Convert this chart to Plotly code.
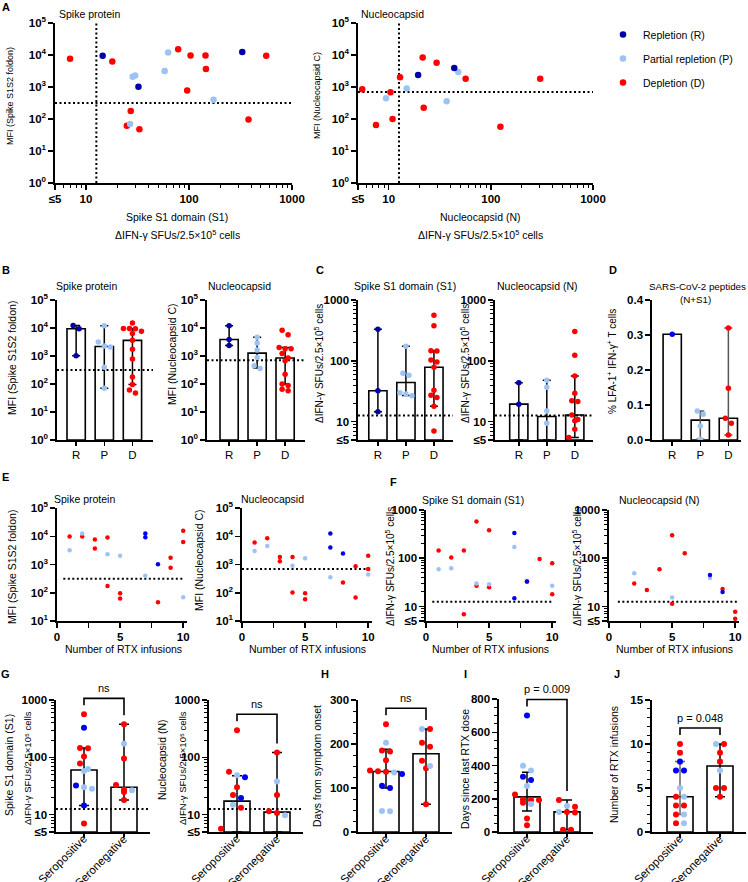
import numpy as np
import plotly.graph_objects as go

W, H = 748, 882
FN = "Liberation Sans, Arial, sans-serif"
FB = "Liberation Sans, Arial, sans-serif"

# ------------------------------------------------------------------ data
GROUPS = ["R", "P", "D"]
GROUP_LABEL = {"R": "Repletion (R)", "P": "Partial repletion (P)", "D": "Depletion (D)"}
CLR_1 = {"R": "#0000A8", "P": "#9DC3F5", "D": "#FF0000"}
CLR_2 = {"R": "#0000F0", "P": "#9DC3F5", "D": "#FF0000"}

spike_mfi_cutoff = 316
n_mfi_cutoff = 700
sfu_cutoff = 12.6

# A / B / C : spike
s1_sfu = [5, 7.0, 14.5, 18, 28.4, 30, 32.3, 27.2, 26.8, 24.9, 33, 58, 62.8, 78.5, 96, 103.5,
          144.6, 146, 173, 329, 378, 562]
spike_mfi = [1730, 7600, 9400, 6300, 2090, 2290, 1020, 178, 70, 61, 48, 3150, 12000, 15100, 780,
             9600, 9600, 3620, 400, 12300, 96, 9400]
spike_group = ["D", "D", "R", "D", "P", "P", "R", "D", "P", "D", "D", "P", "P", "D", "D", "D",
               "D", "D", "P", "R", "D", "D"]
# A / B / C : nucleocapsid
n_sfu = [5, 5, 5, 5, 5.5, 5, 7.5, 9.4, 10.4, 10.9, 12.9, 15, 19.4, 21.5, 22, 29.4, 36.9, 43.8,
         47.9, 56.6, 124, 304]
n_mfi = [12000, 4650, 1650, 1240, 850, 89, 65, 445, 680, 100, 2000, 890, 2370, 8300, 225, 5750,
         357, 3900, 2940, 1820, 57, 1820]
n_group = ["R", "P", "P", "D", "D", "D", "D", "P", "D", "D", "D", "P", "R", "D", "D", "D", "P",
           "R", "P", "D", "D", "D"]

# error bars (low, high) for R, P, D
b_spike_lo = [1020, 70, 96]
b_spike_hi = [12300, 12000, 9500]
b_n_lo = [2370, 370, 100]
b_n_hi = [12000, 4650, 2000]
c_s1_lo = [14.5, 27, 18]
c_s1_hi = [329, 173, 146]
c_n_lo = [5, 5, 5.5]
c_n_hi = [43.8, 47.9, 56.6]

# D : % LFA-1+ IFN-g+ T cells
d_values = [0.302, 0.0733, 0.083, 0.040, 0.002, 0.32, 0.148, 0.062, 0.048, 0.014]
d_group = ["R", "P", "P", "P", "P", "D", "D", "D", "D", "D"]
d_lo = [0.302, 0.002, 0.014]
d_hi = [0.302, 0.083, 0.32]

# E : MFI vs number of RTX infusions
e_rtx = [1, 1, 2, 2, 3, 3, 4, 4, 4, 5, 5, 5, 7, 7, 7, 8, 8, 9, 9, 10, 10, 10]
e_spike_mfi = [9700, 3200, 12500, 9700, 7600, 3700, 9100, 2300, 174, 2050, 96, 63, 12500, 9200,
               400, 1020, 46, 1730, 760, 15600, 6300, 69]
e_spike_group = ["D", "P", "P", "D", "D", "D", "D", "P", "D", "P", "D", "D", "R", "R", "P", "R",
                 "D", "D", "D", "D", "D", "P"]
e_n_mfi = [6000, 3000, 8500, 4500, 1860, 1300, 1860, 900, 102, 1660, 96, 59, 12500, 4000, 355,
           2450, 230, 870, 68, 2050, 690, 445]
e_n_group = ["D", "P", "D", "P", "D", "D", "D", "P", "D", "P", "D", "D", "R", "R", "P", "R", "D",
             "D", "D", "D", "D", "P"]

# F : SFUs vs number of RTX infusions
f_s1_rtx = [1, 1, 2, 2, 3, 3, 4, 4, 4, 5, 5, 5, 7, 7, 7, 8, 8, 9, 9, 10, 10, 10]
f_s1_sfu = [145, 59, 103, 62, 145, 6.9, 575, 30, 27, 380, 29, 25, 333, 171, 14.8, 33, 33, 97, 5,
            79, 27, 18]
f_s1_group = ["D", "P", "D", "P", "D", "D", "D", "P", "D", "D", "P", "D", "R", "P", "R", "D", "R",
              "D", "D", "D", "P", "D"]
f_n_rtx = [2, 2, 3, 3, 4, 4, 4, 5, 5, 5, 6, 6, 8, 8, 8, 9, 9, 10, 10, 11, 11, 11]
f_n_sfu = [49, 30, 22, 5, 59, 5, 5, 300, 15.4, 11.4, 127, 5, 45, 39, 5, 23, 20, 7.8, 5.6, 13,
           10.8, 10]
f_n_group = ["P", "D", "D", "P", "D", "D", "D", "D", "P", "D", "D", "P", "R", "P", "R", "D", "R",
             "D", "D", "D", "D", "P"]

# G-J : seropositive (0) vs seronegative (1)
SERO = ["Seropositive", "Seronegative"]
g_s1_pos = [5, 7, 14.5, 28.4, 30, 32.3, 58, 62.8, 78.5, 103.5, 144.6, 146, 329, 562]
g_s1_pos_group = ["D", "D", "R", "P", "P", "R", "P", "P", "D", "D", "D", "D", "R", "D"]
g_s1_neg = [18, 24.9, 26.8, 27.2, 33, 96, 173, 378]
g_s1_neg_group = ["D", "D", "P", "D", "D", "D", "P", "D"]
g_s1_lo = [14.5, 18]
g_s1_hi = [146, 378]

g_n_pos = [297, 56, 45, 49, 30, 22, 19.6, 15, 13.2, 5.7, 5, 5, 5, 5]
g_n_pos_group = ["D", "D", "R", "P", "D", "D", "R", "P", "D", "D", "D", "P", "R", "P"]
g_n_neg = [122, 38, 22, 11.5, 10.7, 9.8, 5, 5]
g_n_neg_group = ["D", "P", "D", "D", "D", "P", "D", "D"]
g_n_lo = [5, 5]
g_n_hi = [48, 122]

h_pos = [245, 203, 185, 183, 163, 140, 138, 137, 135, 132, 105, 100, 48, 47]
h_pos_group = ["D", "P", "D", "D", "D", "D", "D", "D", "P", "R", "R", "R", "P", "P"]
h_neg = [234, 234, 203, 194, 162, 150, 145, 63]
h_neg_group = ["P", "D", "D", "D", "D", "P", "D", "D"]
h_lo = [100, 63]
h_hi = [188, 234]

i_pos = [701, 398, 370, 333, 313, 277, 226, 196, 192, 192, 176, 168, 81, 40]
i_pos_group = ["R", "P", "P", "R", "R", "P", "D", "D", "D", "D", "D", "P", "D", "D"]
i_neg = [192, 156, 152, 121, 121, 118, 14, 14]
i_neg_group = ["D", "P", "D", "P", "D", "D", "D", "D"]
i_lo = [127, 14]
i_hi = [360, 192]

j_pos = [10, 9, 8, 7, 7, 5, 4, 4, 3, 3, 2, 2, 1, 1]
j_pos_group = ["D", "D", "R", "R", "R", "P", "D", "P", "D", "D", "D", "P", "D", "P"]
j_neg = [10, 10, 9, 8, 7, 5, 5, 4]
j_neg_group = ["P", "D", "D", "D", "P", "D", "D", "D"]
j_lo = [2, 4]
j_hi = [8, 10]

stat_labels = {"G1": "ns", "G2": "ns", "H": "ns", "I": "p = 0.009", "J": "p = 0.048"}

# ------------------------------------------------------------------ helpers
fig = go.Figure()
layout = dict(width=W, height=H, margin=dict(l=0, r=0, t=0, b=0, pad=0, autoexpand=False),
              template="none", paper_bgcolor="white",
              plot_bgcolor="rgba(0,0,0,0)", barmode="overlay", hovermode=False)
annotations, shapes = [], []
TS = 10.5   # general text size
AXIS = dict(showline=True, linecolor="black", linewidth=1.6, ticks="outside", ticklen=5,
            tickwidth=1.5, tickcolor="black", showgrid=False, zeroline=False, fixedrange=True,
            automargin=False,
            tickfont=dict(family=FB, size=11.5, color="black", weight="bold"))
LOG_MINOR = [6, 7, 8, 9] + [20, 30, 40, 50, 60, 70, 80, 90] + [200, 300, 400, 500, 600, 700, 800, 900]
naxes = [0]


def P2X(px):
    return px / W


def P2Y(py):
    return 1 - py / H


class Panel:
    def __init__(self, l, r, t, b, xr, yr, xlog=False, ylog=False):
        naxes[0] += 1
        s = "" if naxes[0] == 1 else str(naxes[0])
        self.xa, self.ya, self.xk, self.yk = "x" + s, "y" + s, "xaxis" + s, "yaxis" + s
        self.l, self.r, self.t, self.b = l, r, t, b
        self.xr, self.yr, self.xlog, self.ylog = xr, yr, xlog, ylog
        layout[self.xk] = dict(domain=[l / W, r / W], anchor=self.ya, range=list(xr),
                               type="log" if xlog else "linear", **AXIS)
        layout[self.yk] = dict(domain=[1 - b / H, 1 - t / H], anchor=self.xa, range=list(yr),
                               type="log" if ylog else "linear", **AXIS)

    def X(self, v):
        v = np.log10(v) if self.xlog else v
        return self.l + (v - self.xr[0]) / (self.xr[1] - self.xr[0]) * (self.r - self.l)

    def Y(self, v):
        v = np.log10(v) if self.ylog else v
        return self.b - (v - self.yr[0]) / (self.yr[1] - self.yr[0]) * (self.b - self.t)

    def xend(self, i):
        return 10 ** self.xr[i] if self.xlog else self.xr[i]

    def yend(self, i):
        return 10 ** self.yr[i] if self.ylog else self.yr[i]

    @property
    def xscale(self):
        return (self.r - self.l) / (self.xr[1] - self.xr[0])


def text(s, x, y, size=TS, bold=False, angle=0, xanchor="center", yanchor="middle", family=FN):
    annotations.append(dict(text=s, x=P2X(x), y=P2Y(y), xref="paper", yref="paper",
                            showarrow=False, textangle=angle, xanchor=xanchor, yanchor=yanchor,
                            font=dict(family=family, size=size, color="black",
                                      weight="bold" if bold else "normal")))


def hline(p, y, x0=None, x1=None):
    x0 = p.xend(0) if x0 is None else x0
    x1 = p.xend(1) if x1 is None else x1
    fig.add_trace(go.Scatter(x=[x0, x1], y=[y, y], mode="lines", xaxis=p.xa, yaxis=p.ya,
                             line=dict(color="black", width=2, dash="2px,2.5px"),
                             showlegend=False, hoverinfo="skip", cliponaxis=False))


def vline(p, x):
    fig.add_trace(go.Scatter(x=[x, x], y=[p.yend(0), p.yend(1)], mode="lines", xaxis=p.xa,
                             yaxis=p.ya, line=dict(color="black", width=2, dash="2px,2.5px"),
                             showlegend=False, hoverinfo="skip"))


def scatter(p, xs, ys, grp, colors, size, legend=False):
    for g in ["D", "P", "R"]:
        sel = [i for i, gg in enumerate(grp) if gg == g]
        fig.add_trace(go.Scatter(
            x=[xs[i] for i in sel], y=[ys[i] for i in sel], mode="markers",
            marker=dict(color=colors[g], size=size, line=dict(width=0)), cliponaxis=False,
            xaxis=p.xa, yaxis=p.ya, name=GROUP_LABEL[g], showlegend=legend, legendgroup=g,
            legendrank={"R": 1, "P": 2, "D": 3}[g], hoverinfo="skip"))


def swarm(vals, p, step_px):
    ys = [p.Y(v) for v in vals]
    order = sorted(range(len(vals)), key=lambda i: ys[i])
    rows, cur = [], []
    for i in order:
        if cur and ys[i] - ys[cur[0]] > step_px * 0.85:
            rows.append(cur)
            cur = []
        cur.append(i)
    if cur:
        rows.append(cur)
    off = [0.0] * len(vals)
    for row in rows:
        n = len(row)
        for k, i in enumerate(row):
            off[i] = (k - (n - 1) / 2) * step_px / p.xscale
    return off


def strip(p, cat, vals, grp, lo, hi, colors, size, step, base, cap, ecolors, cutoff=None):
    ncat = len(lo)
    med = [float(np.median([v for v, c in zip(vals, cat) if c == k])) for k in range(ncat)]
    fig.add_trace(go.Bar(x=list(range(ncat)), y=[m - base for m in med], base=base, width=0.65,
                         marker=dict(color="white", line=dict(color="black", width=1.6)),
                         xaxis=p.xa, yaxis=p.ya, showlegend=False, hoverinfo="skip"))
    if cutoff is not None:
        hline(p, cutoff)
    for k in range(ncat):
        if hi[k] == lo[k]:
            continue
        fig.add_trace(go.Scatter(
            x=[k], y=[med[k]], mode="markers", marker=dict(size=2, color="rgba(0,0,0,0)"),
            error_y=dict(type="data", symmetric=False, array=[hi[k] - med[k]],
                         arrayminus=[med[k] - lo[k]], color=ecolors[k], thickness=1.5, width=cap),
            xaxis=p.xa, yaxis=p.ya, showlegend=False, hoverinfo="skip", cliponaxis=False))
    xs = [0.0] * len(vals)
    for k in range(ncat):
        idx = [i for i, c in enumerate(cat) if c == k]
        off = swarm([vals[i] for i in idx], p, step)
        for i, o in zip(idx, off):
            xs[i] = k + o
    scatter(p, xs, vals, grp, colors, size)
    return med


def bracket(p, maxes, label):
    legs = [p.Y(m) - 9 for m in maxes]
    top = min(legs) - 7
    x0, x1 = p.X(0), p.X(1)
    shapes.append(dict(type="path", xref="paper", yref="paper",
                       path=f"M {P2X(x0)},{P2Y(legs[0])} L {P2X(x0)},{P2Y(top)} "
                            f"L {P2X(x1)},{P2Y(top)} L {P2X(x1)},{P2Y(legs[1])}",
                       line=dict(color="black", width=1.6)))
    text(label, (x0 + x1) / 2, top - 10, size=11)


def rotated_categories(p, labels, widths):
    # 45-degree labels ending at each category tick
    for k, (lab, w) in enumerate(zip(labels, widths)):
        d = w / 2 * 0.7071
        text(lab, p.X(k) - d + 1, p.b + d + 5, size=11.5, angle=-45)


def log_ticks(ax_key, vals, labels, minor=None):
    layout[ax_key].update(tickmode="array", tickvals=vals, ticktext=labels)
    if minor:
        layout[ax_key]["minor"] = dict(tickmode="array", tickvals=minor, ticks="outside",
                                       ticklen=3, tickwidth=1, tickcolor="black")


DEC5 = [1, 10, 100, 1000, 10000, 100000]
DEC5_T = ["10<sup>0</sup>", "10<sup>1</sup>", "10<sup>2</sup>", "10<sup>3</sup>", "10<sup>4</sup>",
          "10<sup>5</sup>"]
SFU_V = [5, 10, 100, 1000]
SFU_T = ["≤5", "10", "100", "1000"]
L5 = float(np.log10(5))
CAT_FONT = dict(family=FN, size=11.5, color="black", weight="normal")
SFU_TITLE = "ΔIFN-γ SFUs/2.5×10<sup>5</sup> cells"

# ------------------------------------------------------------------ panel A
pA1 = Panel(55, 292, 23, 183, (L5, 3), (0, 5), xlog=True, ylog=True)
pA2 = Panel(358, 593, 23, 183, (L5, 3), (0, 5), xlog=True, ylog=True)
for p in (pA1, pA2):
    log_ticks(p.xk, SFU_V, SFU_T, LOG_MINOR)
    log_ticks(p.yk, DEC5, DEC5_T)
vline(pA1, sfu_cutoff)
hline(pA1, spike_mfi_cutoff)
scatter(pA1, s1_sfu, spike_mfi, spike_group, CLR_1, 6.5, legend=True)
vline(pA2, sfu_cutoff)
hline(pA2, n_mfi_cutoff)
scatter(pA2, n_sfu, n_mfi, n_group, CLR_1, 6.5)

text("A", 6, 7, size=11, bold=True, family=FB)
text("Spike protein", 57, 14, xanchor="left")
text("Nucleocapsid", 359, 14, xanchor="left")
text("MFI (Spike S1S2 foldon)", 10, 96, size=9, angle=-90)
text("MFI (Nucleocapsid C)", 317, 96, size=9, angle=-90)
text("Spike S1 domain (S1)", 177, 217)
text(SFU_TITLE, 177, 234)
text("Nucleocapsid (N)", 480, 217)
text(SFU_TITLE, 480, 234)

# ------------------------------------------------------------------ panels B, C, D
pB1 = Panel(57, 153, 300, 440, (-0.68, 2.73), (0, 5), ylog=True)
pB2 = Panel(207, 305, 300, 440, (-0.79, 2.71), (0, 5), ylog=True)
pC1 = Panel(358, 453, 300, 440, (-0.71, 2.68), (L5, 3), ylog=True)
pC2 = Panel(495, 593, 300, 440, (-0.85, 2.65), (L5, 3), ylog=True)
pD = Panel(652, 741, 300, 440, (-0.72, 2.45), (0, 0.4))
for p in (pB1, pB2, pC1, pC2, pD):
    layout[p.xk].update(tickmode="array", tickvals=[0, 1, 2], ticktext=GROUPS, ticklen=4,
                        tickfont=CAT_FONT)
log_ticks(pB1.yk, DEC5, DEC5_T)
log_ticks(pB2.yk, DEC5, DEC5_T)
log_ticks(pC1.yk, SFU_V, SFU_T, LOG_MINOR)
log_ticks(pC2.yk, SFU_V, SFU_T, LOG_MINOR)
layout[pD.yk].update(tickmode="array", tickvals=[0, 0.1, 0.2, 0.3, 0.4],
                     ticktext=["0.0", "0.1", "0.2", "0.3", "0.4"])

gi = {g: i for i, g in enumerate(GROUPS)}
strip(pB1, [gi[g] for g in spike_group], spike_mfi, spike_group, b_spike_lo, b_spike_hi,
      CLR_1, 5.5, 6, 1, 4, ["black"] * 3, cutoff=spike_mfi_cutoff)
strip(pB2, [gi[g] for g in n_group], n_mfi, n_group, b_n_lo, b_n_hi,
      CLR_1, 5.5, 6, 1, 4, ["black"] * 3, cutoff=n_mfi_cutoff)
strip(pC1, [gi[g] for g in spike_group], s1_sfu, spike_group, c_s1_lo, c_s1_hi,
      CLR_1, 5.5, 6, 5, 4, ["black"] * 3, cutoff=sfu_cutoff)
strip(pC2, [gi[g] for g in n_group], n_sfu, n_group, c_n_lo, c_n_hi,
      CLR_1, 5.5, 6, 5, 4, ["black"] * 3, cutoff=sfu_cutoff)
strip(pD, [gi[g] for g in d_group], d_values, d_group, d_lo, d_hi,
      CLR_2, 5.5, 6, 0, 4, ["#555555"] * 3)

text("B", 6, 270, size=11, bold=True, family=FB)
text("C", 320, 270, size=11, bold=True, family=FB)
text("D", 613, 270, size=11, bold=True, family=FB)
text("Spike protein", 86, 286)
text("Nucleocapsid", 239, 286)
text("Spike S1 domain (S1)", 405, 286)
text("Nucleocapsid (N)", 537, 286)
text("SARS-CoV-2 peptides", 697, 286, size=9.8)
text("(N+S1)", 695, 300, size=9.8)
text("MFI (Spike S1S2 foldon)", 12, 358, angle=-90)
text("MFI (Nucleocapsid C)", 172, 354, angle=-90)
text(SFU_TITLE, 319, 364, size=10, angle=-90)
text(SFU_TITLE, 465, 364, size=10, angle=-90)
text("% LFA-1<sup>+</sup> IFN-γ<sup>+</sup> T cells", 612, 362, size=10, angle=-90)

# ------------------------------------------------------------------ panels E, F
pE1 = Panel(57, 187, 508, 621, (0, 10.3), (1, 5), ylog=True)
pE2 = Panel(242, 372, 508, 621, (0, 10.3), (1, 5), ylog=True)
pF1 = Panel(426, 556, 510, 621, (0, 10.3), (L5, 3), ylog=True)
pF2 = Panel(609, 739, 510, 621, (0, 10.3), (L5, 3), ylog=True)
for p in (pE1, pE2, pF1, pF2):
    layout[p.xk].update(tickmode="array", tickvals=[0, 2.5, 5, 7.5, 10],
                        ticktext=["0", "", "5", "", "10"])
for p in (pE1, pE2):
    log_ticks(p.yk, DEC5[1:], DEC5_T[1:])
for p in (pF1, pF2):
    log_ticks(p.yk, SFU_V, SFU_T, LOG_MINOR)

hline(pE1, spike_mfi_cutoff, 0.5, 10)
scatter(pE1, e_rtx, e_spike_mfi, e_spike_group, CLR_2, 4.5)
hline(pE2, n_mfi_cutoff, 0, 10)
scatter(pE2, e_rtx, e_n_mfi, e_n_group, CLR_2, 4.5)
hline(pF1, sfu_cutoff, 0.5, 10)
scatter(pF1, f_s1_rtx, f_s1_sfu, f_s1_group, CLR_2, 4.5)
hline(pF2, sfu_cutoff, 0.7, 11)
scatter(pF2, f_n_rtx, f_n_sfu, f_n_group, CLR_2, 4.5)

text("E", 5, 477, size=11, bold=True, family=FB)
text("F", 393, 482, size=11, bold=True, family=FB)
text("Spike protein", 84, 499)
text("Nucleocapsid", 272, 499)
text("Spike S1 domain (S1)", 473, 500)
text("Nucleocapsid (N)", 659, 500)
text("MFI (Spike S1S2 foldon)", 12, 567, angle=-90)
text("MFI (Nucleocapsid C)", 199, 560, angle=-90)
text(SFU_TITLE, 390, 567, size=10, angle=-90)
text(SFU_TITLE, 577, 567, size=10, angle=-90)
for cx in (123, 307, 491, 674):
    text("Number of RTX infusions", cx, 649)

# ------------------------------------------------------------------ panels G-J
pG1 = Panel(56, 150, 700, 832, (-0.7, 1.65), (L5, 3), ylog=True)
pG2 = Panel(209, 303, 700, 832, (-0.7, 1.65), (L5, 3), ylog=True)
pH = Panel(358, 452, 700, 832, (-0.7, 1.65), (0, 300))
pI = Panel(499, 593, 699, 832, (-0.7, 1.65), (0, 800))
pJ = Panel(652, 746, 700, 832, (-0.7, 1.65), (0, 15))
for p in (pG1, pG2, pH, pI, pJ):
    layout[p.xk].update(tickmode="array", tickvals=[0, 1], ticktext=SERO, ticklen=3,
                        showticklabels=False)
    rotated_categories(p, SERO, [63, 68])
log_ticks(pG1.yk, SFU_V, SFU_T, LOG_MINOR)
log_ticks(pG2.yk, SFU_V, SFU_T, LOG_MINOR)
layout[pH.yk].update(tickmode="array", tickvals=[0, 100, 200, 300],
                     minor=dict(dtick=25, ticks="outside", ticklen=3, tickwidth=1, tickcolor="black"))
layout[pI.yk].update(tickmode="array", tickvals=[0, 200, 400, 600, 800],
                     minor=dict(dtick=50, ticks="outside", ticklen=3, tickwidth=1, tickcolor="black"))
layout[pJ.yk].update(tickmode="array", tickvals=[0, 5, 10, 15],
                     minor=dict(dtick=1, ticks="outside", ticklen=3, tickwidth=1, tickcolor="black"))


def sero(pos, neg):
    return [0] * len(pos) + [1] * len(neg), list(pos) + list(neg)


cat, vals = sero(g_s1_pos, g_s1_neg)
strip(pG1, cat, vals, g_s1_pos_group + g_s1_neg_group, g_s1_lo, g_s1_hi, CLR_2, 6, 8, 5, 5,
      ["black", "black"], cutoff=sfu_cutoff)
bracket(pG1, [max(g_s1_pos), max(g_s1_neg)], stat_labels["G1"])
cat, vals = sero(g_n_pos, g_n_neg)
strip(pG2, cat, vals, g_n_pos_group + g_n_neg_group, g_n_lo, g_n_hi, CLR_2, 6, 8, 5, 5,
      ["black", "black"], cutoff=sfu_cutoff)
bracket(pG2, [max(g_n_pos), max(g_n_neg)], stat_labels["G2"])
cat, vals = sero(h_pos, h_neg)
strip(pH, cat, vals, h_pos_group + h_neg_group, h_lo, h_hi, CLR_2, 6, 8, 0, 5,
      ["black", "black"])
bracket(pH, [max(h_pos), max(h_neg)], stat_labels["H"])
cat, vals = sero(i_pos, i_neg)
strip(pI, cat, vals, i_pos_group + i_neg_group, i_lo, i_hi, CLR_2, 6, 8, 0, 5,
      ["black", "black"])
bracket(pI, [max(i_pos), max(i_neg)], stat_labels["I"])
cat, vals = sero(j_pos, j_neg)
strip(pJ, cat, vals, j_pos_group + j_neg_group, j_lo, j_hi, CLR_2, 6, 8, 0, 5,
      ["#666666", "black"])
bracket(pJ, [max(j_pos), max(j_neg)], stat_labels["J"])

for lbl, x in (("G", 5), ("H", 325), ("I", 465), ("J", 617)):
    text(lbl, x, 674, size=11, bold=True, family=FB)
text("Spike S1 domain (S1)", 9, 765, angle=-90)
text("ΔIFN-γ SFUs/2.5×10⁵ cells", 27, 768, size=9.5, angle=-90)
text("Nucleocapsid (N)", 162, 760, angle=-90)
text("ΔIFN-γ SFUs/2.5×10⁵ cells", 182, 768, size=9.5, angle=-90)
text("Days from symptom onset", 317, 766, angle=-90)
text("Days since last RTX dose", 465, 769, angle=-90)
text("Number of RTX infusions", 614, 765, angle=-90)

# ------------------------------------------------------------------ finish
layout["annotations"] = annotations
layout["shapes"] = shapes
layout["showlegend"] = True
layout["legend"] = dict(x=603 / W, y=P2Y(20), xanchor="left", yanchor="top",
                        font=dict(family=FN, size=10.5, color="black"), tracegroupgap=5,
                        bgcolor="rgba(0,0,0,0)", itemclick=False, itemdoubleclick=False)
fig.update_layout(**layout)
fig.write_html("out.html",
               config={"displayModeBar": False, "staticPlot": True},
               post_script="document.body.style.margin='0px';"
                           "document.body.style.padding='0px';"
                           "document.body.style.overflow='hidden';")
